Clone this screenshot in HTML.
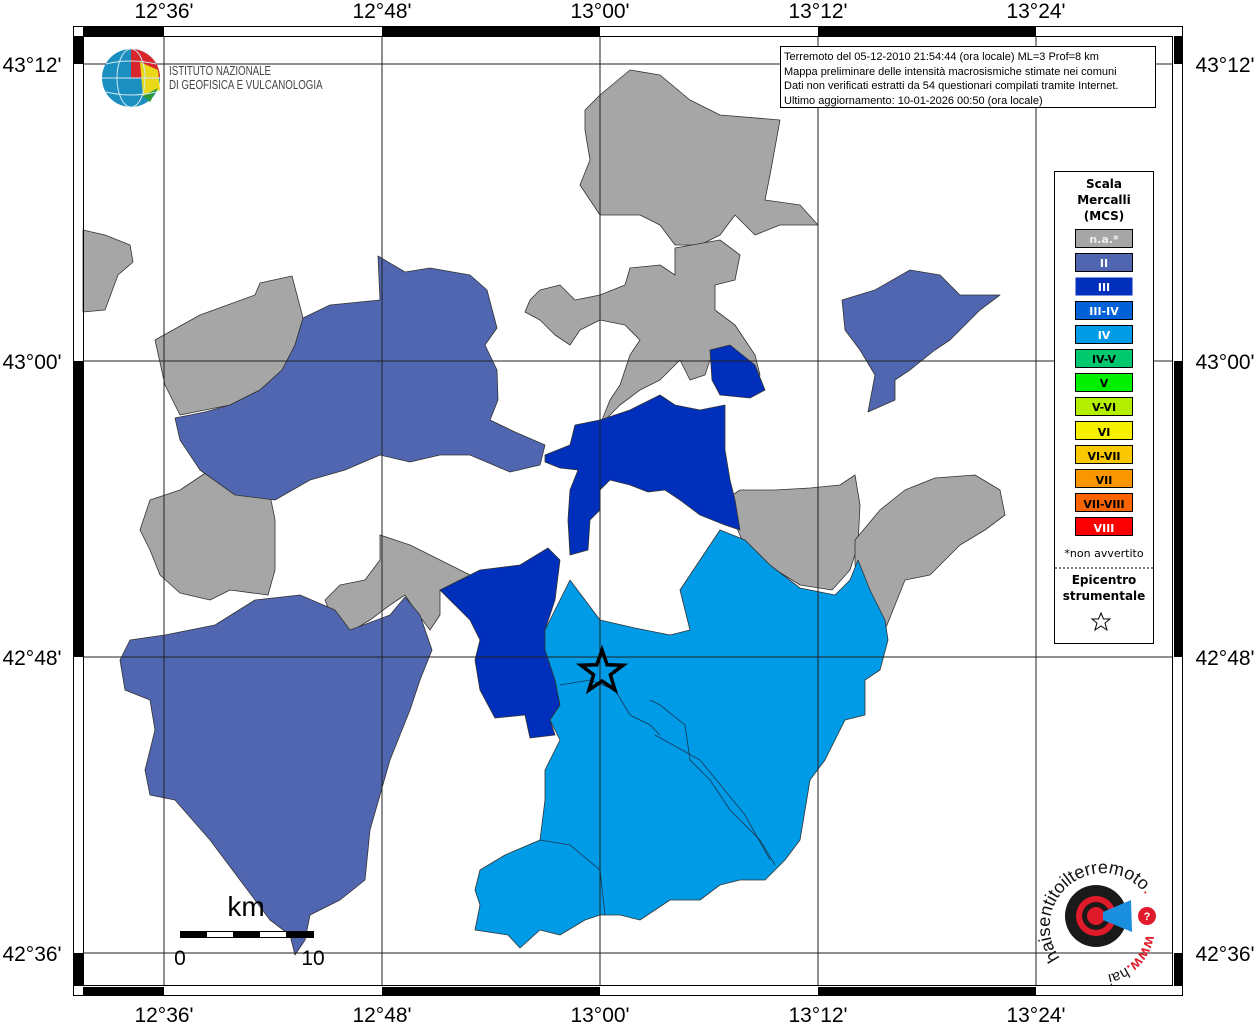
<!DOCTYPE html>
<html><head><meta charset="utf-8"><style>
body{margin:0;background:#fff;width:1256px;height:1024px;overflow:hidden}
svg{display:block}
text{font-family:"Liberation Sans",sans-serif}
</style></head><body>
<svg width="1256" height="1024" viewBox="0 0 1256 1024" xmlns="http://www.w3.org/2000/svg">
<rect width="1256" height="1024" fill="#fff"/>
<g stroke="#333" stroke-width="0.8" stroke-linejoin="round">
<g fill="#a6a6a6">
<polygon points="585,110 600,95 630,70 660,75 690,100 720,115 780,120 770,175 765,200 800,205 818,225 780,225 755,235 735,215 720,235 700,245 675,245 660,225 640,215 600,215 580,185 590,160 585,130"/>
<polygon points="540,290 560,285 575,300 600,295 625,285 630,268 660,265 675,275 675,248 720,240 740,255 735,280 715,285 715,310 735,325 755,355 760,375 745,380 720,380 710,360 705,375 690,380 680,360 660,380 640,390 620,405 600,425 610,400 620,385 630,355 640,340 625,325 600,320 580,330 570,345 555,335 540,320 525,312 530,300"/>
<polygon points="155,340 200,315 255,295 260,283 292,276 303,318 295,345 282,370 260,390 230,405 180,415 165,385"/>
<polygon points="83,230 105,235 130,245 133,262 118,275 105,310 83,312"/>
<polygon points="150,500 180,490 210,470 240,490 270,495 275,520 275,570 268,595 230,590 210,600 180,593 160,575 150,550 140,530"/>
<polygon points="325,600 340,585 365,580 380,560 380,535 410,545 440,560 470,575 480,575 455,605 440,590 440,615 430,630 415,610 405,595 390,605 370,620 345,635 335,625"/>
<polygon points="725,500 740,490 775,490 810,488 840,485 855,475 860,505 858,545 850,570 832,590 800,585 760,560 742,540"/>
<polygon points="855,540 880,510 905,490 935,478 975,475 1000,490 1005,515 985,530 960,545 930,575 905,580 895,605 885,630 870,610 865,585 855,565"/>
</g>
<g fill="#5066b0">
<polygon points="303,318 330,305 380,300 378,256 405,272 430,268 470,275 487,290 497,328 485,345 497,370 498,400 490,420 515,432 545,445 540,465 510,472 470,455 440,455 410,462 380,455 345,470 310,480 275,500 235,495 200,470 180,440 175,418 205,412 230,405 260,390 282,370 295,345"/>
<polygon points="120,660 130,640 165,635 215,625 255,600 300,595 335,610 350,630 390,615 405,597 420,615 432,650 420,680 410,710 390,760 370,830 365,880 340,900 310,915 305,940 295,955 290,935 270,920 240,880 210,840 175,800 150,795 145,770 155,730 150,700 125,690"/>
<polygon points="842,300 875,290 910,270 940,275 960,295 1000,295 980,310 960,330 950,340 935,350 910,370 895,380 895,400 868,412 875,375 860,350 845,330"/>
</g>
<g fill="#0030bb">
<polygon points="710,350 730,345 755,365 765,390 750,398 720,395 712,380"/>
<polygon points="545,455 570,445 575,425 600,420 630,410 660,395 675,405 700,410 725,405 725,450 730,480 735,500 740,530 725,525 700,515 680,500 665,490 648,492 630,485 610,480 600,490 600,510 590,520 588,550 570,555 568,520 570,490 578,470 560,468 545,462"/>
<polygon points="440,590 480,570 520,565 548,548 560,560 555,600 545,630 555,680 560,705 550,720 555,735 530,738 525,715 495,718 480,690 475,660 480,640 470,620 455,605"/>
</g>
<polygon fill="#009be6" points="545,630 560,600 570,580 585,600 600,620 635,628 670,635 690,630 680,590 700,560 720,530 745,540 770,565 800,588 835,595 850,580 858,560 870,590 885,620 888,640 880,670 865,680 865,715 845,720 825,760 810,780 800,840 785,860 765,880 740,880 720,885 700,900 670,900 640,920 620,915 600,915 585,920 560,935 540,930 520,948 508,935 475,930 480,905 475,890 480,870 505,855 540,840 545,800 545,770 560,740 550,720 560,705 555,680 545,650"/>
</g>
<g fill="none" stroke="#1a3550" stroke-width="0.8">
<polyline points="560,685 590,680 615,690 630,715 650,725 660,735"/>
<polyline points="650,700 660,705 685,725 690,760 710,780 730,810 760,840 775,865"/>
<polyline points="540,840 570,845 600,870 605,915"/>
<polyline points="655,735 700,760 745,815 770,860"/>
</g>
<g stroke="#222" stroke-width="1">
<line x1="164" y1="36" x2="164" y2="986"/><line x1="382" y1="36" x2="382" y2="986"/><line x1="600" y1="36" x2="600" y2="986"/><line x1="818" y1="36" x2="818" y2="986"/><line x1="1036" y1="36" x2="1036" y2="986"/>
<line x1="83" y1="64" x2="1173" y2="64"/><line x1="83" y1="361" x2="1173" y2="361"/><line x1="83" y1="657" x2="1173" y2="657"/><line x1="83" y1="953" x2="1173" y2="953"/>
</g>
<rect x="73.5" y="26.5" width="1109" height="969" fill="none" stroke="#000" stroke-width="1"/>
<rect x="83.5" y="36.5" width="1089" height="949" fill="none" stroke="#000" stroke-width="1"/>
<g fill="#000">
<rect x="83" y="27" width="81" height="9"/><rect x="382" y="27" width="218" height="9"/><rect x="818" y="27" width="218" height="9"/>
<rect x="83" y="987" width="81" height="9"/><rect x="382" y="987" width="218" height="9"/><rect x="818" y="987" width="218" height="9"/>
<rect x="74" y="36" width="9" height="28"/><rect x="74" y="361" width="9" height="296"/><rect x="74" y="953" width="9" height="33"/>
<rect x="1174" y="36" width="9" height="28"/><rect x="1174" y="361" width="9" height="296"/><rect x="1174" y="953" width="9" height="33"/>
</g>
<g font-size="21" fill="#000" text-anchor="middle">
<text x="164" y="18">12°36'</text><text x="382" y="18">12°48'</text><text x="600" y="18">13°00'</text><text x="818" y="18">13°12'</text><text x="1036" y="18">13°24'</text>
<text x="164" y="1022">12°36'</text><text x="382" y="1022">12°48'</text><text x="600" y="1022">13°00'</text><text x="818" y="1022">13°12'</text><text x="1036" y="1022">13°24'</text>
</g>
<g font-size="21" fill="#000">
<text x="32" y="72" text-anchor="middle">43°12'</text><text x="32" y="369" text-anchor="middle">43°00'</text><text x="32" y="665" text-anchor="middle">42°48'</text><text x="32" y="961" text-anchor="middle">42°36'</text>
<text x="1225" y="72" text-anchor="middle">43°12'</text><text x="1225" y="369" text-anchor="middle">43°00'</text><text x="1225" y="665" text-anchor="middle">42°48'</text><text x="1225" y="961" text-anchor="middle">42°36'</text>
</g>
<circle cx="131" cy="78" r="29" fill="#1b8fc0"/>
<path d="M131,49 A29,29 0 0,1 160,78 L131,78Z" fill="#d9262c"/>
<path d="M140,62 L158,70 L160,90 L143,96Z" fill="#e9d81a"/>
<path d="M143,96 L158,88 L150,102Z" fill="#2a9a3a"/>
<g stroke="#cfe8f5" stroke-width="1" fill="none"><ellipse cx="131" cy="78" rx="14" ry="29"/><line x1="102" y1="78" x2="160" y2="78"/><path d="M106,64 Q131,58 156,64"/><path d="M106,92 Q131,98 156,92"/></g>
<g transform="translate(169,0) scale(0.78,1)" font-size="12.5" fill="#444">
<text x="0" y="75">ISTITUTO NAZIONALE</text>
<text x="0" y="89">DI GEOFISICA E VULCANOLOGIA</text>
</g>
<rect x="780.5" y="46.5" width="375" height="61" fill="#fff" stroke="#000"/>
<g font-size="11" fill="#000">
<text x="784" y="60">Terremoto del 05-12-2010 21:54:44 (ora locale) ML=3 Prof=8 km</text>
<text x="784" y="75">Mappa preliminare delle intensità macrosismiche stimate nei comuni</text>
<text x="784" y="89">Dati non verificati estratti da 54 questionari compilati tramite Internet.</text>
<text x="784" y="104">Ultimo aggiornamento: 10-01-2026 00:50 (ora locale)</text>
</g>
<rect x="1054.5" y="171.5" width="99" height="472" fill="#fff" stroke="#000"/>
<g font-family="DejaVu Sans,sans-serif" font-weight="bold" font-size="12" text-anchor="middle" fill="#000">
<text x="1104" y="188" style="font-family:'DejaVu Sans',sans-serif">Scala</text><text x="1104" y="204" style="font-family:'DejaVu Sans',sans-serif">Mercalli</text><text x="1104" y="220" style="font-family:'DejaVu Sans',sans-serif">(MCS)</text>
</g>
<g stroke="#000" stroke-width="1">
<rect x="1075.5" y="229.5" width="57" height="18" fill="#a6a6a6"/>
<rect x="1075.5" y="253.5" width="57" height="18" fill="#5066b0"/>
<rect x="1075.5" y="277.5" width="57" height="18" fill="#0030bb" stroke="none"/>
<rect x="1075.5" y="301.5" width="57" height="18" fill="#0062d6"/>
<rect x="1075.5" y="325.5" width="57" height="18" fill="#009be6"/>
<rect x="1075.5" y="349.5" width="57" height="18" fill="#00c86e"/>
<rect x="1075.5" y="373.5" width="57" height="18" fill="#00f000"/>
<rect x="1075.5" y="397.5" width="57" height="18" fill="#b4ee00"/>
<rect x="1075.5" y="421.5" width="57" height="18" fill="#f5f000"/>
<rect x="1075.5" y="445.5" width="57" height="18" fill="#fac800"/>
<rect x="1075.5" y="469.5" width="57" height="18" fill="#fa9600"/>
<rect x="1075.5" y="493.5" width="57" height="18" fill="#fa6400"/>
<rect x="1075.5" y="517.5" width="57" height="18" fill="#fa0000"/>
</g>
<g style="font-family:'DejaVu Sans',sans-serif" font-weight="bold" font-size="11" text-anchor="middle">
<text x="1104" y="243" fill="#eee" style="font-family:'DejaVu Sans',sans-serif">n.a.*</text><text x="1104" y="267" fill="#fff" style="font-family:'DejaVu Sans',sans-serif">II</text><text x="1104" y="291" fill="#fff" style="font-family:'DejaVu Sans',sans-serif">III</text><text x="1104" y="315" fill="#fff" style="font-family:'DejaVu Sans',sans-serif">III-IV</text><text x="1104" y="339" fill="#fff" style="font-family:'DejaVu Sans',sans-serif">IV</text>
<text x="1104" y="363" fill="#000" style="font-family:'DejaVu Sans',sans-serif">IV-V</text><text x="1104" y="387" fill="#000" style="font-family:'DejaVu Sans',sans-serif">V</text><text x="1104" y="411" fill="#000" style="font-family:'DejaVu Sans',sans-serif">V-VI</text><text x="1104" y="436" fill="#000" style="font-family:'DejaVu Sans',sans-serif">VI</text><text x="1104" y="460" fill="#000" style="font-family:'DejaVu Sans',sans-serif">VI-VII</text><text x="1104" y="484" fill="#000" style="font-family:'DejaVu Sans',sans-serif">VII</text><text x="1104" y="508" fill="#000" style="font-family:'DejaVu Sans',sans-serif">VII-VIII</text><text x="1104" y="532" fill="#fff" style="font-family:'DejaVu Sans',sans-serif">VIII</text>
</g>
<text x="1104" y="557" font-size="11" text-anchor="middle" style="font-family:'DejaVu Sans',sans-serif">*non avvertito</text>
<line x1="1055" y1="568" x2="1153" y2="568" stroke="#000" stroke-dasharray="2,2"/>
<g font-weight="bold" font-size="12" text-anchor="middle"><text x="1104" y="584" style="font-family:'DejaVu Sans',sans-serif">Epicentro</text><text x="1104" y="600" style="font-family:'DejaVu Sans',sans-serif">strumentale</text></g>
<polygon points="1101,613 1103.5,619 1110,619 1105,623 1107,630 1101,626 1095,630 1097,623 1092,619 1098.5,619" fill="none" stroke="#000"/>
<polygon points="602,650 607.2,664.8 623,665.2 610.4,674.8 615,690 602,681 589,690 593.6,674.8 581,665.2 596.8,664.8" fill="none" stroke="#000" stroke-width="3.5" stroke-linejoin="miter"/>
<text x="246" y="916" font-size="28" text-anchor="middle">km</text>
<rect x="180.5" y="931.5" width="133" height="6" fill="#fff" stroke="#000"/>
<g fill="#000"><rect x="180" y="931" width="27" height="7"/><rect x="233" y="931" width="27" height="7"/><rect x="286" y="931" width="27" height="7"/></g>
<text x="180" y="965" font-size="21" text-anchor="middle">0</text><text x="313" y="965" font-size="21" text-anchor="middle">10</text>
<circle cx="1096" cy="916" r="31" fill="#1a1a1a"/>
<circle cx="1096" cy="916" r="20" fill="#e01a2a"/>
<circle cx="1096" cy="916" r="14" fill="#1a1a1a"/>
<circle cx="1096" cy="916" r="9" fill="#e01a2a"/>
<polygon points="1103,912 1131,900 1132,932 1103,920" fill="#1a8fe0"/>
<circle cx="1147" cy="916" r="9" fill="#e01a2a"/><text x="1147" y="920" font-size="11" fill="#fff" text-anchor="middle" font-weight="bold">?</text>
<path id="arc" d="M1060,958 A46,46 0 1,1 1146,895" fill="none"/>
<text font-size="18" fill="#111"><textPath href="#arc">haisentitoilterremoto<tspan fill="#e01a2a">.it</tspan></textPath></text>
<path id="arc2" d="M1146,935 A48,48 0 0,1 1070,966" fill="none"/>
<text font-size="15" fill="#e01a2a" font-weight="bold"><textPath href="#arc2">www.<tspan fill="#111" font-weight="normal">hai</tspan></textPath></text>
</svg>
</body></html>
